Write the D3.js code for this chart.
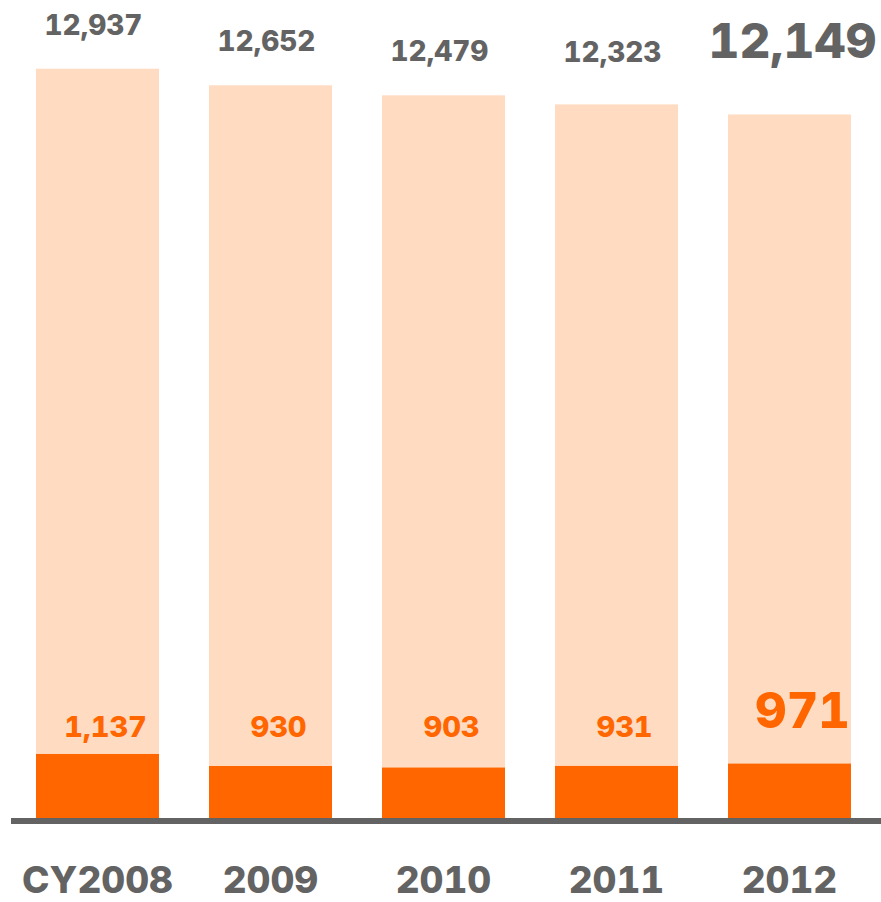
<!DOCTYPE html>
<html>
<head>
<meta charset="utf-8">
<script src="https://cdn.jsdelivr.net/npm/d3@7"></script>
<style>
  body { margin: 0; background: #fff; }
  text { font-family: Inter, "Liberation Sans", sans-serif; font-weight: 800; font-variant-numeric: tabular-nums; }
</style>
</head>
<body>
<div id="chart"></div>
<script>
// chart data
const years = ["CY2008", "2009", "2010", "2011", "2012"];
const totals = [12937, 12652, 12479, 12323, 12149];
const subset = [1137, 930, 903, 931, 971];
const highlight = "2012";

const width = 881, height = 902;
const grey = "#636363", orange = "#ff6600", peach = "#ffdbc1";
const fmt = d3.format(",");

const svg = d3.select("#chart").append("svg")
  .attr("width", width)
  .attr("height", height);

const x = d3.scaleBand()
  .domain(years)
  .range([36, 851])
  .paddingInner(0.289)
  .paddingOuter(0);

const y = d3.scaleLinear()
  .domain([0, 14000])
  .range([820, 7]);

const rows = years.map((d, i) => ({ year: d, total: totals[i], part: subset[i] }));

// light bars = totals
svg.selectAll(".total")
  .data(rows)
  .join("rect")
  .attr("class", "total")
  .attr("x", d => x(d.year))
  .attr("y", d => y(d.total))
  .attr("width", x.bandwidth())
  .attr("height", d => y(0) - y(d.total))
  .attr("fill", peach);

// dark bars = subset
svg.selectAll(".part")
  .data(rows)
  .join("rect")
  .attr("class", "part")
  .attr("x", d => x(d.year))
  .attr("y", d => y(d.part))
  .attr("width", x.bandwidth())
  .attr("height", d => y(0) - y(d.part))
  .attr("fill", orange);

// baseline
svg.append("rect")
  .attr("x", 11)
  .attr("y", 818)
  .attr("width", width - 11)
  .attr("height", 6)
  .attr("fill", grey);

// total labels
svg.selectAll(".lblTotal")
  .data(rows)
  .join("text")
  .attr("class", "lblTotal")
  .attr("x", d => x(d.year) + x.bandwidth() / 2 + (d.year === highlight ? 3 : -4))
  .attr("y", d => d.year === highlight ? 58 : Math.min(y(d.total) - 34, 62))
  .attr("text-anchor", "middle")
  .attr("fill", grey)
  .style("font-size", d => d.year === highlight ? "48px" : "28px")
  .text(d => fmt(d.total));

// subset labels
svg.selectAll(".lblPart")
  .data(rows)
  .join("text")
  .attr("class", "lblPart")
  .attr("x", d => x(d.year) + x.bandwidth() / 2 + (d.year === highlight ? 13 : 8))
  .attr("y", d => d.year === highlight ? 728 : 737)
  .attr("text-anchor", "middle")
  .attr("fill", orange)
  .style("font-size", d => d.year === highlight ? "49px" : "29px")
  .text(d => fmt(d.part));

// category labels
svg.selectAll(".lblYear")
  .data(rows)
  .join("text")
  .attr("class", "lblYear")
  .attr("x", d => x(d.year) + x.bandwidth() / 2)
  .attr("y", 893)
  .attr("text-anchor", "middle")
  .attr("fill", grey)
  .style("font-size", "37px")
  .text(d => d.year);
</script>
</body>
</html>
